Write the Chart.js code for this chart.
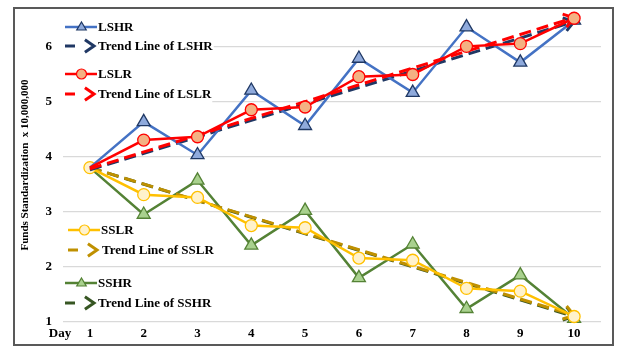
<!DOCTYPE html>
<html lang="en">
<head>
  <meta charset="UTF-8">
  <title>Funds Standardization</title>
  <script src="https://cdn.jsdelivr.net/npm/chart.js"></script>
  <style>
    html, body {
      margin: 0;
      padding: 0;
      background: #fff;
    }
  </style>
</head>
<body>
  <canvas id="fundsChart" width="618" height="348"></canvas>

  <script>
    const days = ['1', '2', '3', '4', '5', '6', '7', '8', '9', '10'];
    const yTicks = [1, 2, 3, 4, 5, 6];
    const yTitle = 'Funds Standardization  x 10,000,000';

    const lshr = [3.8, 4.63, 4.03, 5.2, 4.56, 5.78, 5.16, 6.35, 5.71, 6.47];
    const lslr = [3.8, 4.3, 4.36, 4.85, 4.9, 5.45, 5.49, 6.0, 6.05, 6.51];
    const sslr = [3.8, 3.31, 3.26, 2.75, 2.71, 2.16, 2.12, 1.61, 1.56, 1.1];
    const sshr = [3.8, 2.95, 3.57, 2.39, 3.02, 1.8, 2.41, 1.24, 1.85, 1.06];

    // trend lines: only the two ends
    const lshrTrend = [3.76, null, null, null, null, null, null, null, null, 6.45];
    const lslrTrend = [3.78, null, null, null, null, null, null, null, null, 6.52];
    const sslrTrend = [3.8, null, null, null, null, null, null, null, null, 1.12];
    const sshrTrend = [3.8, null, null, null, null, null, null, null, null, 1.1];

    const serif = "'Liberation Serif', 'Times New Roman', serif";

    // at day 1 only the SSLR circle shows, the other markers sit under it
    function series(label, data, color, fill, edge, style, showFirst) {
      const r = style === 'triangle' ? 7.5 : 6;
      return {
        label: label, data: data,
        borderColor: color, borderWidth: 2.5,
        pointStyle: style,
        pointRadius: data.map((v, i) => (i === 0 && !showFirst) ? 0 : r),
        pointBackgroundColor: fill, pointBorderColor: edge, pointBorderWidth: 1.3,
        tension: 0
      };
    }
    function trend(label, data, color) {
      return {
        label: label, data: data, isTrend: true,
        borderColor: color, borderWidth: 3, borderDash: [12, 6],
        pointRadius: 0, spanGaps: true, tension: 0
      };
    }

    // listed top-most first (chart.js draws index 0 last)
    const datasets = [
      series('LSLR', lslr, '#FF0000', '#F4B183', '#FF0000', 'circle', false),
      trend('Trend Line of LSLR', lslrTrend, '#FF0000'),
      series('LSHR', lshr, '#4472C4', '#8FAADC', '#1F3864', 'triangle', false),
      trend('Trend Line of LSHR', lshrTrend, '#203864'),
      series('SSLR', sslr, '#FFC000', '#FFF2CC', '#FFC000', 'circle', true),
      trend('Trend Line of SSLR', sslrTrend, '#BF9000'),
      series('SSHR', sshr, '#548235', '#A9D18E', '#548235', 'triangle', false),
      trend('Trend Line of SSHR', sshrTrend, '#375623')
    ];

    // where each legend row sits: [label, x of symbol, x of text, y]
    const legendRows = [
      ['LSHR', 65, 98, 27],
      ['Trend Line of LSHR', 65, 98, 46],
      ['LSLR', 65, 98, 74],
      ['Trend Line of LSLR', 65, 98, 94],
      ['SSLR', 68, 101, 230],
      ['Trend Line of SSLR', 68, 102, 250],
      ['SSHR', 65, 98, 283],
      ['Trend Line of SSHR', 65, 98, 303]
    ];

    function chevron(ctx, x, y, angle, len) {
      ctx.beginPath();
      ctx.moveTo(x - len * Math.cos(angle - 0.6), y - len * Math.sin(angle - 0.6));
      ctx.lineTo(x, y);
      ctx.lineTo(x - len * Math.cos(angle + 0.6), y - len * Math.sin(angle + 0.6));
      ctx.stroke();
    }

    function marker(ctx, ds, x, y, r) {
      ctx.fillStyle = ds.pointBackgroundColor;
      ctx.strokeStyle = ds.pointBorderColor;
      ctx.lineWidth = 1.2;
      ctx.beginPath();
      if (ds.pointStyle === 'triangle') {
        ctx.moveTo(x, y - r);
        ctx.lineTo(x + r * 0.95, y + r * 0.6);
        ctx.lineTo(x - r * 0.95, y + r * 0.6);
        ctx.closePath();
      } else {
        ctx.arc(x, y, r, 0, Math.PI * 2);
      }
      ctx.fill();
      ctx.stroke();
    }

    const framePlugin = {
      id: 'frame',
      beforeDraw(chart) {
        const ctx = chart.ctx;
        ctx.save();
        ctx.fillStyle = '#fff';
        ctx.fillRect(0, 0, chart.width, chart.height);
        ctx.restore();
      },
      afterDatasetDraw(chart, args) {
        const ds = chart.data.datasets[args.index];
        if (!ds.isTrend) return;
        const pts = args.meta.data;
        const a = pts[0], b = pts[pts.length - 1];
        const ctx = chart.ctx;
        ctx.save();
        ctx.strokeStyle = ds.borderColor;
        ctx.lineWidth = 3;
        chevron(ctx, b.x, b.y, Math.atan2(b.y - a.y, b.x - a.x), 12);
        ctx.restore();
      },
      afterDraw(chart) {
        const ctx = chart.ctx;
        ctx.save();
        ctx.font = 'bold 13px ' + serif;
        ctx.textBaseline = 'middle';
        legendRows.forEach(row => {
          const [label, sx, tx, y] = row;
          const ds = chart.data.datasets.find(d => d.label === label);
          const w = ctx.measureText(label).width;
          ctx.fillStyle = '#fff';
          ctx.fillRect(sx - 2, y - 9, tx + w + 3 - sx, 18);
          ctx.strokeStyle = ds.borderColor;
          ctx.lineWidth = ds.isTrend ? 3 : 2.5;
          if (ds.isTrend) {
            ctx.beginPath();
            ctx.moveTo(sx, y);
            ctx.lineTo(sx + 10, y);
            ctx.stroke();
            chevron(ctx, sx + 29, y, 0, 11);
          } else {
            ctx.beginPath();
            ctx.moveTo(sx, y);
            ctx.lineTo(tx - 1, y);
            ctx.stroke();
            marker(ctx, ds, (sx + tx) / 2, y, 5);
          }
          ctx.fillStyle = '#000';
          ctx.textAlign = 'left';
          ctx.fillText(label, tx, y + 1);
        });
        // "Day" caption at the start of the x axis
        ctx.textAlign = 'center';
        ctx.fillText('Day', 60, 334);
        // y axis title
        ctx.save();
        ctx.translate(25, 165);
        ctx.rotate(-Math.PI / 2);
        ctx.font = 'bold 11px ' + serif;
        ctx.fillText(yTitle, 0, 0);
        ctx.restore();
        // outer frame
        ctx.strokeStyle = '#595959';
        ctx.lineWidth = 2;
        ctx.strokeRect(14, 8, 599, 337);
        ctx.restore();
      }
    };

    new Chart(document.getElementById('fundsChart'), {
      type: 'line',
      data: { labels: days, datasets: datasets },
      plugins: [framePlugin],
      options: {
        responsive: false,
        animation: false,
        events: [],
        layout: { padding: { top: 3, right: 17, bottom: 0, left: 0 } },
        plugins: { legend: { display: false }, tooltip: { enabled: false } },
        datasets: { line: { clip: false } },
        scales: {
          x: {
            offset: true,
            grid: { display: false },
            border: { display: false },
            ticks: { color: '#000', padding: -4, font: { family: serif, size: 13, weight: 'bold' } },
            afterFit(scale) { scale.height = 26; }
          },
          y: {
            min: 1,
            max: 6.5,
            grid: { color: '#d9d9d9', lineWidth: 1.3, drawTicks: false },
            border: { display: false },
            ticks: { color: '#000', padding: 11, font: { family: serif, size: 13, weight: 'bold' } },
            afterBuildTicks(scale) { scale.ticks = yTicks.map(v => ({ value: v })); },
            afterFit(scale) { scale.width = 63; }
          }
        }
      }
    });
  </script>
</body>
</html>
